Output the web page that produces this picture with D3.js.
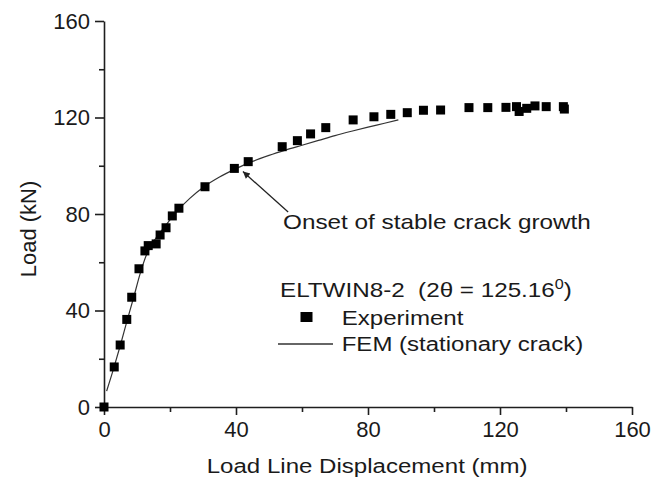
<!DOCTYPE html>
<html>
<head>
<meta charset="utf-8">
<script src="https://cdn.jsdelivr.net/npm/d3@7"></script>
<style>
  html, body { margin: 0; padding: 0; background: #fff; }
  svg { display: block; }
  text { font-family: "Liberation Sans", Arial, Helvetica, sans-serif; fill: #1a1a1a; }
</style>
</head>
<body>
<svg id="chart" width="655" height="479"></svg>
<script>
// ---- data ----
const expX = [0, 3.1, 4.9, 6.9, 8.4, 10.6, 12.4, 13.4, 15.8, 17.0, 18.8, 20.7, 22.7, 30.6, 39.5, 43.7,
              54.0, 58.6, 62.6, 67.2, 75.5, 81.8, 86.9, 91.9, 96.8, 102.0, 110.6, 116.3, 121.8,
              125.0, 125.8, 128.1, 130.6, 134.0, 139.2, 139.5];
const expY = [0, 16.6, 25.7, 36.3, 45.5, 57.3, 64.7, 66.9, 67.6, 71.3, 74.3, 79.2, 82.4, 91.3, 98.9, 101.7,
              107.9, 110.4, 113.2, 115.8, 119.0, 120.3, 121.3, 122.0, 123.0, 123.1, 124.1, 124.1, 124.2,
              124.5, 122.5, 123.8, 124.8, 124.5, 124.5, 123.5];
const femX = [0.8, 3, 5, 7, 9, 11, 13, 15, 18, 22, 26, 30, 35, 40, 45, 50, 55, 60, 65, 70, 75, 80, 85, 89.2];
const femY = [6.6, 16.3, 25.8, 35.8, 45.5, 55.5, 63.5, 68.5, 74, 81, 86.5, 91, 95.3, 98.8, 101.8, 104.3,
              106.5, 108.5, 110.5, 112.5, 114.3, 116, 117.6, 119];
const xTickValues = [0, 40, 80, 120, 160];
const yTickValues = [0, 40, 80, 120, 160];
const xMinorTicks = [20, 60, 100, 140];
const yMinorTicks = [20, 60, 100, 140];
const xTitle = "Load Line Displacement (mm)";
const yTitle = "Load (kN)";
const legendTitle = "ELTWIN8-2\u00A0 (2\u03B8 = 125.16";
const seriesNames = ["Experiment", "FEM (stationary crack)"];
const annotationText = "Onset of stable crack growth";
const arrowTip = [42.1, 97.6];
const arrowTail = [55.8, 80.8];

// ---- layout ----
const svg = d3.select("#chart");
const x = d3.scaleLinear().domain([0, 160]).range([104, 632]);
const y = d3.scaleLinear().domain([0, 160]).range([407, 21]);
const ink = "#1e1e1e";

function fitWidth(sel, w) {
  const node = sel.node();
  const cur = node.getBBox().width;
  const sx = w / cur;
  const tx = +sel.attr("x"), ty = +sel.attr("y");
  sel.attr("x", 0).attr("y", 0)
     .attr("transform", `translate(${tx},${ty}) scale(${sx},1)`);
}

// axes
svg.append("g").attr("transform", `translate(0,${y(0)})`)
  .call(d3.axisBottom(x).tickValues(xTickValues).tickSize(8).tickSizeOuter(0).tickPadding(6).tickFormat(d3.format("d")));
const xMinor = svg.append("g").attr("transform", `translate(0,${y(0)})`)
  .call(d3.axisBottom(x).tickValues(xMinorTicks).tickSize(5).tickSizeOuter(0).tickFormat(""));
svg.append("g").attr("transform", `translate(${x(0)},0)`)
  .call(d3.axisLeft(y).tickValues(yTickValues).tickSize(9).tickSizeOuter(0).tickPadding(5).tickFormat(d3.format("d")));
const yMinor = svg.append("g").attr("transform", `translate(${x(0)},0)`)
  .call(d3.axisLeft(y).tickValues(yMinorTicks).tickSize(5).tickSizeOuter(0).tickFormat(""));
xMinor.select(".domain").remove();
yMinor.select(".domain").remove();
svg.selectAll(".domain, .tick line").attr("stroke", ink).attr("stroke-width", 1.6);
svg.selectAll(".tick text").attr("font-size", 22).attr("fill", "#1a1a1a")
   .attr("font-family", "Liberation Sans, Arial, sans-serif");

// axis titles
const xt = svg.append("text").attr("x", 206.7).attr("y", 473).attr("font-size", 21).text(xTitle);
fitWidth(xt, 321);
svg.append("text").attr("transform", `translate(36,${229}) rotate(-90)`)
  .attr("text-anchor", "middle").attr("font-size", 22).text(yTitle);

// FEM line
const line = d3.line().x(d => x(d[0])).y(d => y(d[1])).curve(d3.curveMonotoneX);
svg.append("path").datum(femX.map((v, i) => [v, femY[i]]))
  .attr("d", line).attr("fill", "none").attr("stroke", "#333").attr("stroke-width", 1.2);

// experiment squares
const s = 9;
svg.append("g").selectAll("rect").data(expX.map((v, i) => [v, expY[i]])).join("rect")
  .attr("x", d => x(d[0]) - s / 2).attr("y", d => y(d[1]) - s / 2)
  .attr("width", s).attr("height", s).attr("fill", "#000");

// annotation arrow
svg.append("defs").append("marker").attr("id", "ah")
  .attr("viewBox", "0 0 10 10").attr("refX", 10).attr("refY", 5)
  .attr("markerWidth", 9).attr("markerHeight", 7).attr("markerUnits", "userSpaceOnUse")
  .attr("orient", "auto")
  .append("path").attr("d", "M0,0 L10,5 L0,10 z").attr("fill", "#222");
svg.append("line")
  .attr("x1", x(arrowTail[0])).attr("y1", y(arrowTail[1]))
  .attr("x2", x(arrowTip[0])).attr("y2", y(arrowTip[1]))
  .attr("stroke", "#222").attr("stroke-width", 1.3).attr("marker-end", "url(#ah)");
const an = svg.append("text").attr("x", 283).attr("y", 228.5).attr("font-size", 21).text(annotationText);
fitWidth(an, 308);

// legend
const lt = svg.append("text").attr("x", 280).attr("y", 296.7).attr("font-size", 21);
lt.append("tspan").text(legendTitle);
lt.append("tspan").attr("font-size", 14).attr("dy", -8).text("0");
lt.append("tspan").attr("dy", 8).text(")");
fitWidth(lt, 292);

svg.append("rect").attr("x", 300.5).attr("y", 312).attr("width", 12).attr("height", 10).attr("fill", "#000");
const e1 = svg.append("text").attr("x", 341.7).attr("y", 325).attr("font-size", 21).text(seriesNames[0]);
fitWidth(e1, 122);
svg.append("line").attr("x1", 278).attr("x2", 333).attr("y1", 344).attr("y2", 344)
  .attr("stroke", "#333").attr("stroke-width", 1.3);
const e2 = svg.append("text").attr("x", 341.7).attr("y", 350.5).attr("font-size", 21).text(seriesNames[1]);
fitWidth(e2, 241.6);
</script>
</body>
</html>
